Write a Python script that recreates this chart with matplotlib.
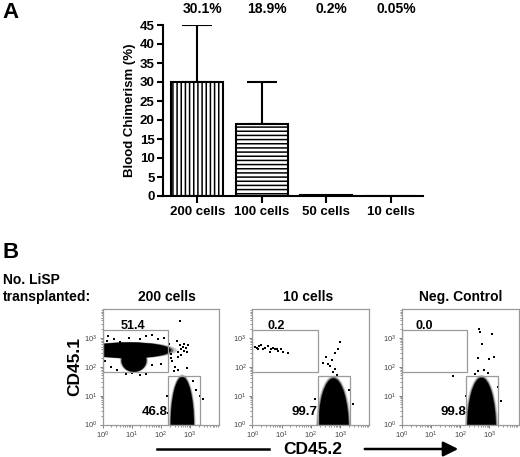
import numpy as np
import matplotlib
matplotlib.use("Agg")
import matplotlib.pyplot as plt
from matplotlib.patches import Ellipse, Rectangle, FancyArrowPatch
from matplotlib.lines import Line2D
from matplotlib.transforms import blended_transform_factory

plt.rcParams['font.family'] = ['Liberation Sans', 'DejaVu Sans']
plt.rcParams['font.weight'] = 'bold'
plt.rcParams['axes.labelweight'] = 'bold'
plt.rcParams['mathtext.default'] = 'regular'
plt.rcParams['hatch.linewidth'] = 1.1

#-----panel A data-----
groups = ["200 cells", "100 cells", "50 cells", "10 cells"]
chimerism = [30.1, 18.9, 0.2, 0.05]
err_up = [14.9, 11.0, 0.0, 0.0]
top_labels = ["30.1%", "18.9%", "0.2%", "0.05%"]
hatches = ["||||", "----", "", ""]

#-----panel B data (log10 units)-----
titles = ["200 cells", "10 cells", "Neg. Control"]
# gates: (x0, y0, x1, y1)
gate_hi = [(0.0, 1.83, 2.24, 3.28), (0.0, 1.83, 2.24, 3.28), (0.0, 1.83, 2.24, 3.28)]
gate_lo = [(2.24, 0.0, 3.34, 1.67), (2.24, 0.0, 3.34, 1.67), (2.2, 0.0, 3.3, 1.67)]
pct_hi = ["51.4", "0.2", "0.0"]
pct_hi_pos = [(1.03, 3.31), (0.8, 3.31), (0.77, 3.31)]
pct_lo = ["46.8", "99.7", "99.8"]
pct_lo_pos = [(2.22, 0.42), (2.22, 0.42), (2.19, 0.44)]
# dense populations: (cx, cy, w, h)
clouds = [
    [(0.9, 2.57, 2.9, 0.55), (1.08, 2.22, 0.85, 0.8), (2.74, 0.0, 0.8, 3.3)],
    [(2.77, -0.2, 1.05, 3.6)],
    [(2.73, -0.2, 1.0, 3.65)],
]
dots_x = [
    [2.6, 2.7, 2.8, 2.75, 2.85, 2.65, 2.9, 2.7, 2.8, 2.6, 2.55, 2.95, 2.66, 2.4, 2.5, 2.6, 2.3, 2.35,
     3.05, 3.2, 3.35, 3.1, 2.2, 2.25, 0.4, 0.9, 1.5, 1.9, 2.1, 1.3, 0.2, 1.7, 0.3, 0.5, 1.7, 2.0,
     0.8, 1.3, 1.5, 2.45, 2.9, 3.45, 0.1, 0.15, 2.3, 2.35, 0.6, 1.0],
    [0.09, 0.17, 0.24, 0.3, 0.35, 0.43, 0.55, 0.63, 0.7, 0.78, 0.84, 0.89, 0.97, 1.04, 1.23, 0.2,
     0.6, 3.0, 2.92, 2.81, 2.52, 2.72, 2.57, 2.66, 2.83, 2.77, 2.89, 2.43, 3.3, 2.15, 3.45],
    [2.66, 2.67, 3.09, 2.75, 2.62, 3.0, 3.17, 2.82, 1.75, 2.5, 2.95, 3.3, 2.2, 3.4, 2.6],
]
dots_y = [
    [2.5, 2.6, 2.55, 2.7, 2.65, 2.75, 2.5, 2.4, 2.8, 2.35, 2.9, 2.75, 3.6, 2.2, 2.0, 1.9, 2.8, 2.45,
     0.8, 1.2, 1.0, 1.5, 1.0, 0.4, 2.95, 3.0, 3.05, 2.95, 3.0, 2.95, 3.05, 3.1, 2.0, 1.9, 2.05, 2.1,
     1.75, 1.7, 1.75, 1.85, 1.95, 0.9, 2.2, 2.9, 2.6, 2.3, 2.85, 1.8],
    [2.7, 2.66, 2.71, 2.77, 2.6, 2.66, 2.71, 2.6, 2.66, 2.6, 2.62, 2.54, 2.6, 2.52, 2.48, 2.6,
     2.52, 2.85, 2.6, 2.46, 2.33, 2.22, 2.1, 2.04, 1.93, 1.81, 1.73, 2.14, 1.2, 0.9, 0.7],
    [3.32, 3.21, 3.14, 2.78, 2.3, 2.27, 2.33, 1.9, 1.67, 1.75, 1.8, 1.3, 1.0, 0.8, 1.85],
]
tick_pos = [0, 1, 2, 3]
tick_txt = ["$10^{0}$", "$10^{1}$", "$10^{2}$", "$10^{3}$"]

W, H = 520, 457
fig = plt.figure(figsize=(W / 100, H / 100), dpi=100)

def px(l, b, r, t):
    return [l / W, 1 - b / H, (r - l) / W, (b - t) / H]

#-----panel A-----
ax = fig.add_axes(px(163, 196, 423, 25))
x = np.arange(len(groups))
ax.bar(x, chimerism, width=0.8, color="white", edgecolor="black", linewidth=1.5, hatch=hatches, zorder=2)
for i in range(len(groups)):
    if err_up[i] > 0:
        ax.errorbar(x[i], chimerism[i], yerr=[[0], [err_up[i]]], fmt="none", ecolor="black",
                    elinewidth=1.5, capsize=10.5, capthick=1.5, zorder=1)
ax.set_xlim(-0.53, 3.5)
ax.set_ylim(0, 45)
ax.set_yticks(range(0, 46, 5))
ax.set_xticks(x)
ax.set_xticklabels(groups, fontsize=9.5, fontweight="bold")
ax.set_yticklabels([str(v) for v in range(0, 46, 5)], fontsize=9.5, fontweight="bold")
ax.tick_params(axis="y", width=1.5, length=4, pad=2)
ax.tick_params(axis="x", width=1.5, length=5, pad=2)
ax.set_ylabel("Blood Chimerism (%)", fontsize=9.5, fontweight="bold", labelpad=3)
for s in ["top", "right"]:
    ax.spines[s].set_visible(False)
for s in ["left", "bottom"]:
    ax.spines[s].set_linewidth(1.5)
tr = blended_transform_factory(ax.transData, fig.transFigure)
for i, lab in enumerate(top_labels):
    ax.text(x[i] + 0.08, 1 - 9 / H, lab, transform=tr, ha="center", va="center",
            fontsize=10, fontweight="bold")

fig.text(2 / W, 1 - 13 / H, "A", fontsize=16, fontweight="bold", va="center", ha="left")

#-----panel B-----
boxes = [(102.5, 424.5, 219, 309), (252.3, 424.5, 369.5, 309), (402, 424.5, 518.5, 309)]
gray = "#9a9a9a"
minor = np.concatenate([np.log10(np.arange(2, 10)) + k for k in range(4)])
for k in range(3):
    a = fig.add_axes(px(*boxes[k]))
    a.set_xlim(0, 4)
    a.set_ylim(0, 4)
    for (cx, cy, w, h) in clouds[k]:
        a.add_patch(Ellipse((cx, cy), w * 1.14, h * 1.05, color="black", alpha=0.22, lw=0))
        a.add_patch(Ellipse((cx, cy), w * 1.06, h * 1.025, color="black", alpha=0.45, lw=0))
        a.add_patch(Ellipse((cx, cy), w, h, color="black", lw=0))
    a.scatter(dots_x[k], dots_y[k], s=2.5, marker="s", color="black", lw=0)
    for g in (gate_hi[k], gate_lo[k]):
        a.add_patch(Rectangle((g[0], g[1]), g[2] - g[0], g[3] - g[1], fill=False, ec=gray, lw=0.9))
    a.text(*pct_hi_pos[k], pct_hi[k], ha="center", va="baseline", fontsize=9, fontweight="bold")
    a.text(*pct_lo_pos[k], pct_lo[k], ha="right", va="center", fontsize=9.5, fontweight="bold")
    a.set_xticks(tick_pos)
    a.set_yticks(tick_pos)
    a.set_xticklabels(tick_txt, fontweight="normal")
    a.set_yticklabels(tick_txt, fontweight="normal")
    a.set_xticks(minor, minor=True)
    a.set_yticks(minor, minor=True)
    a.tick_params(which="major", labelsize=5.5, labelcolor="#444444", length=2.5, width=0.6,
                  color="#666666", pad=1.5, direction="out")
    a.tick_params(which="minor", length=1.2, width=0.5, color="#666666", direction="out")
    for s in a.spines.values():
        s.set_color(gray)
        s.set_linewidth(0.9)
    fig.text((boxes[k][0] + boxes[k][2]) / 2 / W + (0.012 if k == 0 else -0.006 if k == 1 else 0),
             1 - 297 / H, titles[k], ha="center", va="center", fontsize=10, fontweight="bold")

fig.text(2 / W, 1 - 253 / H, "B", fontsize=16, fontweight="bold", va="center", ha="left")
fig.text(3 / W, 1 - 280 / H, "No. LiSP", fontsize=10, fontweight="bold", va="center", ha="left")
fig.text(3 / W, 1 - 297 / H, "transplanted:", fontsize=10, fontweight="bold", va="center", ha="left")
fig.text(75 / W, 1 - 367 / H, "CD45.1", fontsize=12.5, fontweight="bold", rotation=90,
         va="center", ha="center")
fig.text(312.5 / W, 1 - 450 / H, "CD45.2", fontsize=12.5, fontweight="bold", va="center", ha="center")
fig.add_artist(Line2D([157 / W, 269 / W], [1 - 449 / H, 1 - 449 / H], color="black", lw=1.8,
                      transform=fig.transFigure))
fig.add_artist(FancyArrowPatch((362 / W, 1 - 449 / H), (461 / W, 1 - 449 / H), transform=fig.transFigure,
                               arrowstyle="-|>,head_length=0.9,head_width=0.45", mutation_scale=10,
                               color="black", lw=1.8))

fig.savefig("out.png", dpi=100)
